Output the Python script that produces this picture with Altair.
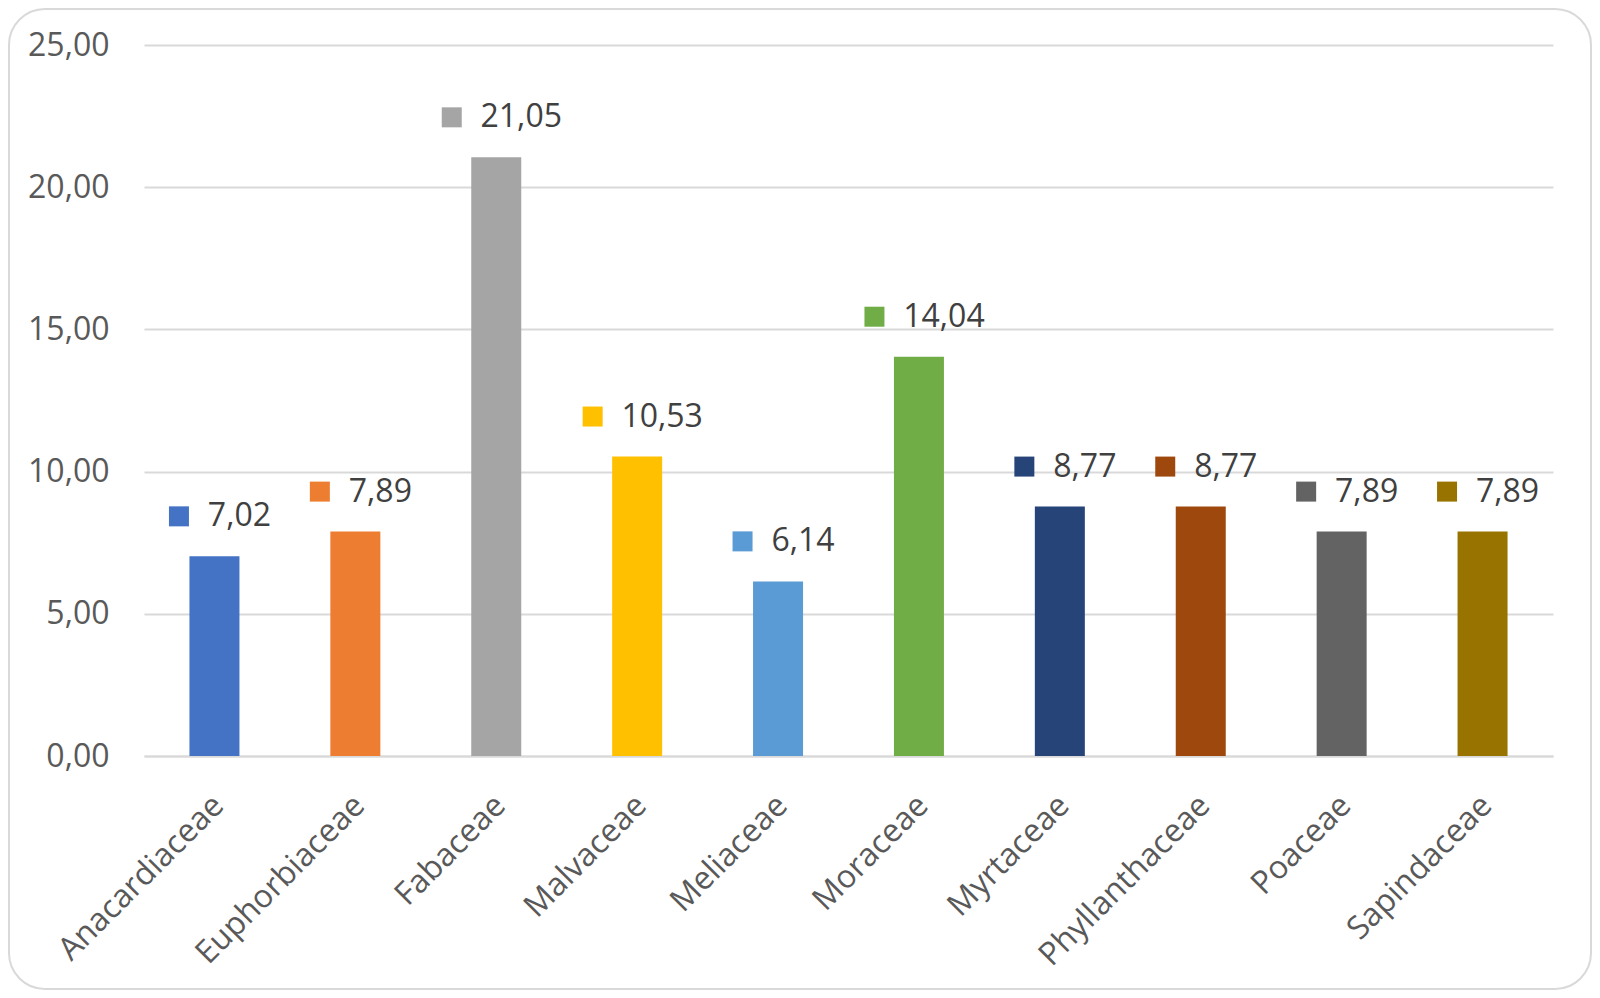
import altair as alt
import pandas as pd

families = ["Anacardiaceae", "Euphorbiaceae", "Fabaceae", "Malvaceae", "Meliaceae",
            "Moraceae", "Myrtaceae", "Phyllanthaceae", "Poaceae", "Sapindaceae"]
percent = [7.02, 7.89, 21.05, 10.53, 6.14, 14.04, 8.77, 8.77, 7.89, 7.89]
colors = ["#4472C4", "#ED7D31", "#A5A5A5", "#FFC000", "#5B9BD5",
          "#70AD47", "#264478", "#9E480E", "#636363", "#997300"]
y_ticks = [0, 5, 10, 15, 20, 25]

df = pd.DataFrame({"family": families, "percent": percent})

FONT = "Open Sans"
W, H = 1409, 711

x_enc = alt.X(
    "family:N", sort=families, title=None,
    scale=alt.Scale(paddingInner=0, paddingOuter=0),
    axis=alt.Axis(labelAngle=-45, labelAlign="right", labelBaseline="middle",
                  labelPadding=44, labelOffset=4, ticks=False, labelLimit=0,
                  domain=True, domainColor="#d9d9d9", domainWidth=2,
                  labelFont=FONT, labelFontSize=32, labelColor="#595959"),
)
y_enc = alt.Y(
    "percent:Q", title=None,
    scale=alt.Scale(domain=[0, 25], nice=False),
    axis=alt.Axis(values=y_ticks, labelExpr="replace(format(datum.value, '.2f'), '.', ',')",
                  ticks=False, domain=False, grid=True, gridColor="#d9d9d9", gridWidth=2,
                  labelPadding=35, labelFont=FONT, labelFontSize=32, labelColor="#595959"),
)
color_enc = alt.Color("family:N", scale=alt.Scale(domain=families, range=colors), legend=None)

base = alt.Chart(df).transform_calculate(
    label="replace(format(datum.percent, '.2f'), '.', ',')"
)

bars = base.mark_bar(size=50).encode(x=x_enc, y=y_enc, color=color_enc)

squares_small = base.transform_filter("datum.percent < 10").mark_square(
    size=400, opacity=1, xOffset=-35.5, yOffset=-40
).encode(x=alt.X("family:N", sort=families), y="percent:Q", color=color_enc)

squares_big = base.transform_filter("datum.percent >= 10").mark_square(
    size=400, opacity=1, xOffset=-44.5, yOffset=-40
).encode(x=alt.X("family:N", sort=families), y="percent:Q", color=color_enc)

texts = base.mark_text(
    dx=25, dy=-40, align="center", baseline="middle",
    font=FONT, fontSize=32, color="#404040"
).encode(x=alt.X("family:N", sort=families), y="percent:Q", text="label:N")

frame = alt.Chart(pd.DataFrame({"f": [0]})).mark_rect(
    fill="white", fillOpacity=0, stroke="#d9d9d9", strokeWidth=2, cornerRadius=36
).encode(
    x=alt.value(-135), x2=alt.value(1447), y=alt.value(-36), y2=alt.value(944)
)

chart = alt.layer(frame, bars, squares_small, squares_big, texts).properties(
    width=W, height=H,
    autosize=alt.AutoSizeParams(type="none"),
    padding={"left": 136, "top": 37, "right": 39, "bottom": 234},
    background="white",
).configure_view(stroke=None)

chart.save("out.html", embed_options={"renderer": "svg", "actions": False})
